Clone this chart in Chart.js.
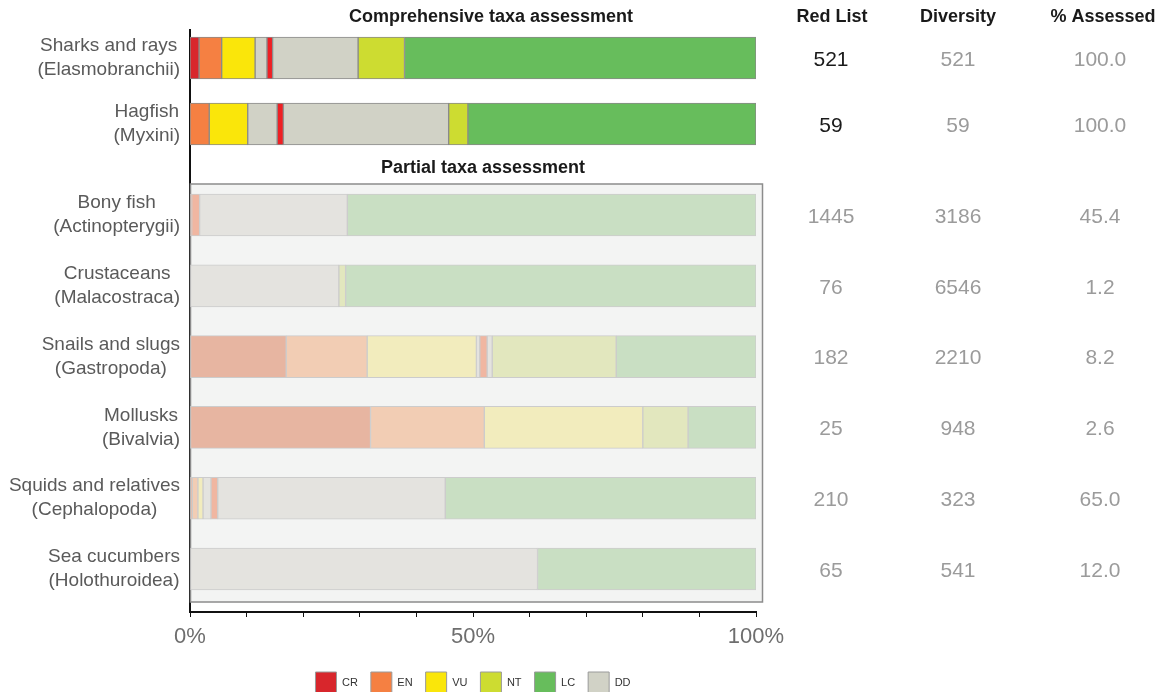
<!DOCTYPE html>
<html>
<head>
<meta charset="utf-8">
<script src="https://cdn.jsdelivr.net/npm/chart.js@4.4.1/dist/chart.umd.min.js"></script>
<style>
  body { margin: 0; background: #fff; }
  #wrap { position: relative; width: 1174px; height: 692px; overflow: hidden; }
  canvas { position: absolute; left: 0; }
  #top { top: 0; }
  #bottom { top: 183px; }
</style>
</head>
<body>
<div id="wrap">
  <canvas id="top" width="1174" height="183"></canvas>
  <canvas id="bottom" width="1174" height="509"></canvas>
</div>
<script>
// ---- data (share of species per Red List category, %) ----
const compLabels = [['Sharks and rays', '(Elasmobranchii)'], ['Hagfish', '(Myxini)']];
const compCR  = [1.6, 0];
const compEN  = [4.0, 3.4];
const compVU  = [5.9, 6.8];
const compDDa = [2.1, 5.2];
const compRed = [1.0, 1.1];   // unlabelled bright red slice
const compDDb = [15.1, 29.2];
const compNT  = [8.2, 3.4];
const compLC  = [62.1, 50.9];
const compRedList   = [521, 59];
const compDiversity = [521, 59];
const compAssessed  = ['100.0', '100.0'];

const partLabels = [
  ['Bony fish', '(Actinopterygii)'],
  ['Crustaceans', '(Malacostraca)'],
  ['Snails and slugs', '(Gastropoda)'],
  ['Mollusks', '(Bivalvia)'],
  ['Squids and relatives', '(Cephalopoda)'],
  ['Sea cucumbers', '(Holothuroidea)']
];
const partCR  = [0.3, 0, 17.0, 31.9, 0.4, 0];
const partEN  = [0, 0, 14.3, 20.1, 1.0, 0];
const partVU  = [0, 0, 19.3, 28.0, 0.9, 0];
const partDDa = [0, 0, 0.6, 0, 1.4, 0];
const partRed = [1.4, 0, 1.3, 0, 1.2, 0];
const partDDb = [26.1, 26.3, 0.9, 0, 40.2, 61.4];
const partNT  = [0, 1.2, 21.9, 8.0, 0, 0];
const partLC  = [72.2, 72.5, 24.7, 12.0, 54.9, 38.6];
const partRedList   = [1445, 76, 182, 25, 210, 65];
const partDiversity = [3186, 6546, 2210, 948, 323, 541];
const partAssessed  = ['45.4', '1.2', '8.2', '2.6', '65.0', '12.0'];

const xMajorTicks = [0, 50, 100];
const legendNames = ['CR', 'EN', 'VU', 'NT', 'LC', 'DD'];

// ---- styles ----
const FONT = "'Liberation Sans', Arial, sans-serif";
const segNames = ['CR', 'EN', 'VU', 'DD', 'red', 'DD', 'NT', 'LC'];
const strongColors = ['#D8262C', '#F58042', '#FAE60A', '#D1D2C6', '#EE2024', '#D1D2C6', '#CDDC31', '#67BD5C'];
const paleColors   = ['#E7B5A1', '#F2CDB4', '#F2ECBD', '#E4E3DF', '#F0B6A1', '#E4E3DF', '#E2E7BE', '#C9DFC3'];
const legendColors = ['#D8262C', '#F58042', '#FAE60A', '#CDDC31', '#67BD5C', '#D1D2C6'];

function buildDatasets(series, colors, border) {
  return series.map((vals, k) => ({
    label: segNames[k],
    data: vals.map((v, i) => ({ x: v || null, y: i })),
    backgroundColor: colors[k],
    borderColor: border,
    borderWidth: 1,
    borderSkipped: false,
    barThickness: 42
  }));
}

// left labels + right-hand number columns, placed on the y scale rows
function rowTextPlugin(labels, redList, diversity, assessed, redListColor) {
  return {
    id: 'rowText',
    afterDraw(chart) {
      const ctx = chart.ctx;
      const y = chart.scales.y;
      ctx.save();
      labels.forEach((lines, i) => {
        const cy = y.getPixelForValue(i);
        ctx.font = '19px ' + FONT;
        ctx.fillStyle = '#5a5a5a';
        ctx.textAlign = 'center';
        ctx.textBaseline = 'middle';
        const w = Math.max(...lines.map(t => ctx.measureText(t).width));
        const cx = 180 - w / 2;
        ctx.fillText(lines[0], cx, cy - 12);
        ctx.fillText(lines[1], cx, cy + 12);

        ctx.font = '21px ' + FONT;
        ctx.fillStyle = redListColor;
        ctx.fillText(String(redList[i]), 831, cy + 2);
        ctx.fillStyle = '#9b9b9b';
        ctx.fillText(String(diversity[i]), 958, cy + 2);
        ctx.fillText(assessed[i], 1100, cy + 2);
      });
      ctx.restore();
    }
  };
}

const headerPlugin = {
  id: 'headers',
  afterDraw(chart) {
    const ctx = chart.ctx;
    ctx.save();
    ctx.font = 'bold 18px ' + FONT;
    ctx.fillStyle = '#1a1a1a';
    ctx.textAlign = 'center';
    ctx.textBaseline = 'middle';
    ctx.fillText('Comprehensive taxa assessment', 491, 17);
    ctx.fillText('Partial taxa assessment', 483, 168);
    ctx.fillText('Red List', 832, 17);
    ctx.fillText('Diversity', 958, 17);
    ctx.fillText('% Assessed', 1103, 17);
    ctx.restore();
  }
};

const panelPlugin = {
  id: 'panel',
  beforeDatasetsDraw(chart) {
    const { ctx, chartArea: a } = chart;
    ctx.save();
    ctx.fillStyle = '#F3F4F3';
    ctx.strokeStyle = '#8c8c8c';
    ctx.lineWidth = 1.5;
    ctx.fillRect(a.left, a.top + 1, a.right + 6 - a.left, a.bottom - 10 - a.top - 1);
    ctx.strokeRect(a.left + 0.5, a.top + 1, a.right + 6 - a.left, a.bottom - 10 - a.top - 1);
    ctx.restore();
  }
};

Chart.defaults.font.family = FONT;
Chart.defaults.animation = false;

const rowAxis = (min, max) => ({
  type: 'linear', stacked: true, reverse: true, offset: false, bounds: 'data',
  min: min, max: max,
  afterFit: (s) => { s.width = 0; },
  grid: { display: false, offset: false }, ticks: { display: false },
  border: { color: '#111', width: 2 }
});

new Chart(document.getElementById('top'), {
  type: 'bar',
  data: {
    datasets: buildDatasets([compCR, compEN, compVU, compDDa, compRed, compDDb, compNT, compLC], strongColors, '#8a8a8a')
  },
  options: {
    indexAxis: 'y',
    responsive: false,
    layout: { padding: { left: 190, right: 418, top: 30, bottom: 0 } },
    scales: {
      x: { display: false, stacked: true, min: 0, max: 100 },
      y: rowAxis(-0.424, 1.894)
    },
    plugins: { legend: { display: false }, tooltip: { enabled: false } }
  },
  plugins: [headerPlugin, rowTextPlugin(compLabels, compRedList, compDiversity, compAssessed, '#1a1a1a')]
});

new Chart(document.getElementById('bottom'), {
  type: 'bar',
  data: {
    datasets: buildDatasets([partCR, partEN, partVU, partDDa, partRed, partDDb, partNT, partLC], paleColors, '#cccccc')
  },
  options: {
    indexAxis: 'y',
    responsive: false,
    layout: { padding: { left: 190, right: 418, top: 0, bottom: -12 } },
    scales: {
      x: {
        stacked: true, min: 0, max: 100,
        afterFit: (s) => { s.height = 47; },
        grid: { drawOnChartArea: false, drawTicks: true, tickLength: 5, color: '#111' },
        border: { color: '#111', width: 2 },
        ticks: {
          stepSize: 10, autoSkip: false, maxRotation: 0, padding: 7,
          color: '#6e6e6e', font: { size: 22 },
          callback: (v) => xMajorTicks.includes(v) ? v + '%' : ''
        }
      },
      y: rowAxis(-0.452, 5.607)
    },
    plugins: {
      tooltip: { enabled: false },
      legend: {
        position: 'bottom',
        labels: {
          boxWidth: 21, boxHeight: 22, padding: 13,
          color: '#333', font: { size: 11 },
          generateLabels: () => legendNames.map((t, k) => ({
            text: t, fillStyle: legendColors[k], strokeStyle: '#9a9a9a',
            lineWidth: 1, fontColor: '#333', hidden: false, index: k
          }))
        }
      }
    }
  },
  plugins: [panelPlugin, rowTextPlugin(partLabels, partRedList, partDiversity, partAssessed, '#9b9b9b')]
});
</script>
</body>
</html>
